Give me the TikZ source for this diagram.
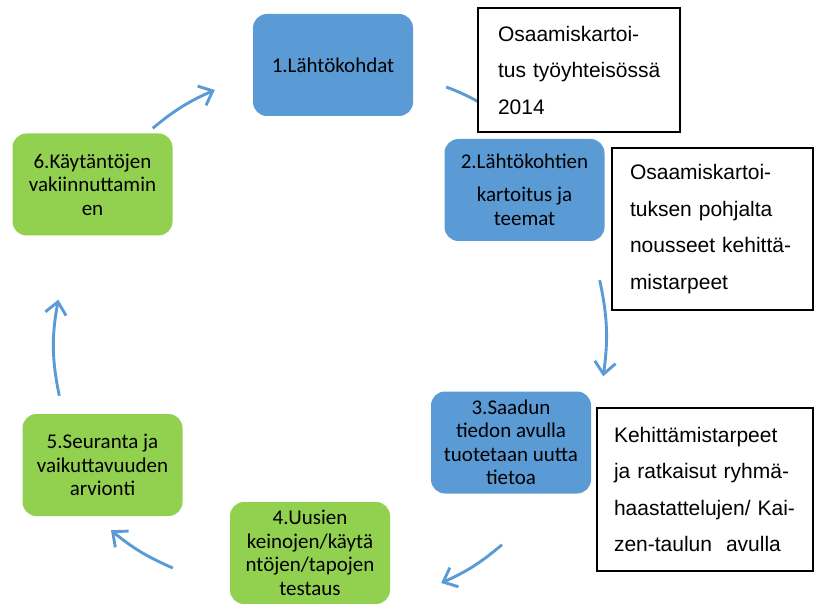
\documentclass[tikz,border=0pt]{standalone}
\usepackage{fontspec}
\setmainfont{Carlito}
\newfontfamily\notefont{Liberation Sans}
\usetikzlibrary{calc,arrows.meta}
\definecolor{phaseblue}{HTML}{5B9BD5}
\definecolor{phasegreen}{HTML}{92D050}
\begin{document}
\begin{tikzpicture}[x=1pt,y=-1pt,
  phase/.style={rounded corners=14pt,minimum width=160pt,minimum height=102pt,inner sep=0pt,
    align=center,font=\fontsize{21}{23.5}\selectfont},
  bluephase/.style={phase,fill=phaseblue},
  greenphase/.style={phase,fill=phasegreen},
  note/.style={draw=black,line width=1.2pt,fill=white,inner ysep=0pt,align=left,
    font=\notefont\fontsize{21}{36.5}\selectfont},
  cycarrow/.style={draw=phaseblue,line width=2.9pt,-{Straight Barb[length=12pt,width=21pt]}}]
 	\useasboundingbox (0,0) rectangle (817,604);
 	\node[bluephase] (b1) at (333,65) {1.Lähtökohdat};
 	\node[bluephase] (b2) at (524.5,190) {2.Lähtökohtien\\[9.5pt]kartoitus ja\\teemat};
 	\node[bluephase] (b3) at (511,442.5) {3.Saadun\\tiedon avulla\\tuotetaan uutta\\tietoa};
 	\node[greenphase] (b4) at (310,553) {4.Uusien\\keinojen/käytä\\ntöjen/tapojen\\testaus};
 	\node[greenphase] (b5) at (102.5,465) {5.Seuranta ja\\vaikuttavuuden\\arvionti};
 	\node[greenphase] (b6) at (92.5,184.5) {6.Käytäntöjen\\vakiinnuttamin\\en};
 	\coordinate (s12) at ($(b1.east)+(33,22)$);
 	\coordinate (e12) at ($(b1.east)+(92,57)$);
 	\coordinate (s23) at ($(b2.south east)+(-5,39)$);
 	\coordinate (e23) at ($(b3.north east)+(12,-15)$);
 	\coordinate (s34) at ($(b3.south)+(-9,51)$);
 	\coordinate (e34) at ($(b4.east)+(51,30)$);
 	\coordinate (s45) at ($(b4.west)+(-57,15)$);
 	\coordinate (e45) at ($(b5.south)+(8.5,14)$);
 	\coordinate (s56) at ($(b5.north west)+(37,-18)$);
 	\coordinate (e56) at ($(b6.south west)+(46,64)$);
 	\coordinate (s61) at ($(b6.north east)+(-20,-5)$);
 	\coordinate (e61) at ($(b1.west)+(-38,25)$);
 	\draw[cycarrow] (s12) to[bend left=10] (e12);
 	\draw[cycarrow] (s23) to[bend left=10] (e23);
 	\draw[cycarrow] (s34) to[bend left=8] (e34);
 	\draw[cycarrow] (s45) to[bend left=8] (e45);
 	\draw[cycarrow] (s56) to[bend left=11] (e56);
 	\draw[cycarrow] (s61) to[bend left=8] (e61);
 	\node[note,minimum width=202pt,minimum height=124pt,inner xsep=20pt,text width=162pt] (tA) at (579,70)
 	  {Osaamiskartoi-\\\mbox{tus työyhteisössä}\\2014};
 	\node[note,minimum width=201pt,minimum height=162pt,inner xsep=18pt,text width=165pt] (tB) at (712.5,229)
 	  {Osaamiskartoi-\\\makebox[165pt][s]{tuksen pohjalta}\\\mbox{nousseet kehittä-}\\mistarpeet};
 	\node[note,minimum width=216pt,minimum height=163pt,inner xsep=17pt,text width=182pt] (tC) at (705,489.5)
 	  {Kehittämistarpeet\\\makebox[182pt][s]{ja ratkaisut ryhmä-}\\\makebox[182pt][s]{haastattelujen/ Kai-}\\zen-taulun~~avulla};
 	\end{tikzpicture}
\end{document}
